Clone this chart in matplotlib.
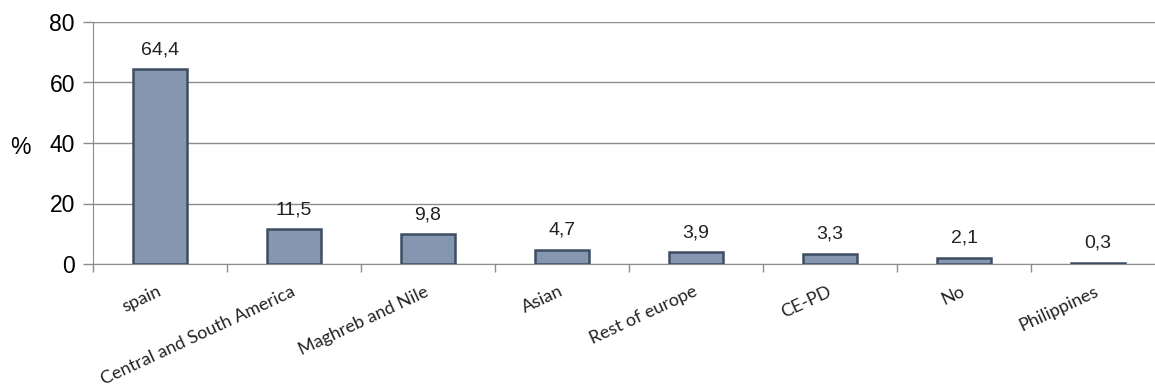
import matplotlib
matplotlib.use("Agg")
import matplotlib.pyplot as plt
import numpy as np

categories = ['spain', 'Central and South America', 'Maghreb and Nile', 'Asian',
              'Rest of europe', 'CE-PD', 'No', 'Philippines']
values = [64.4, 11.5, 9.8, 4.7, 3.9, 3.3, 2.1, 0.3]
value_labels = ['64,4', '11,5', '9,8', '4,7', '3,9', '3,3', '2,1', '0,3']
yticks = [0, 20, 40, 60, 80]

fig = plt.figure(figsize=(11.55, 3.88), dpi=100)
ax = fig.add_axes([93/1155, 124/388, 1072/1155, 242/388])

x = np.arange(len(categories))
ax.bar(x, values, width=0.4, color='#8597b0', edgecolor='#3e4d63', linewidth=1.8, zorder=3)

for xi, v, lab in zip(x, values, value_labels):
    ax.annotate(lab, (xi, v), xytext=(0, 8), textcoords='offset points',
                ha='center', va='bottom', fontsize=14, family='Liberation Sans', color='#222222')

ax.set_xlim(-0.5, len(categories) - 0.5)
ax.set_ylim(0, 80)
ax.set_yticks(yticks)
ax.set_yticklabels([str(t) for t in yticks], fontsize=16.5, family='Liberation Sans')
ax.yaxis.grid(True, color='#8c8c8c', linewidth=1.0, zorder=0)
ax.tick_params(axis='y', length=7, color='#8c8c8c', width=1.0, pad=6)

# category boundary ticks
ax.set_xticks(np.arange(len(categories) + 1) - 0.5)
ax.set_xticklabels([])
ax.tick_params(axis='x', length=6, color='#8c8c8c', width=1.0, direction='out')
for xi, lab in zip(x, categories):
    ax.text(xi, -8.8, lab, rotation=25, rotation_mode='anchor', ha='right', va='center',
            fontsize=13, family='Lato', color='#222222')

for s in ['top', 'right']:
    ax.spines[s].set_visible(False)
ax.spines['left'].set_color('#8c8c8c')
ax.spines['bottom'].set_color('#8c8c8c')

fig.text(20/1155, 1 - 147/388, '%', fontsize=16.5, family='Liberation Sans', ha='center', va='center')

fig.savefig('out.png', dpi=100)
